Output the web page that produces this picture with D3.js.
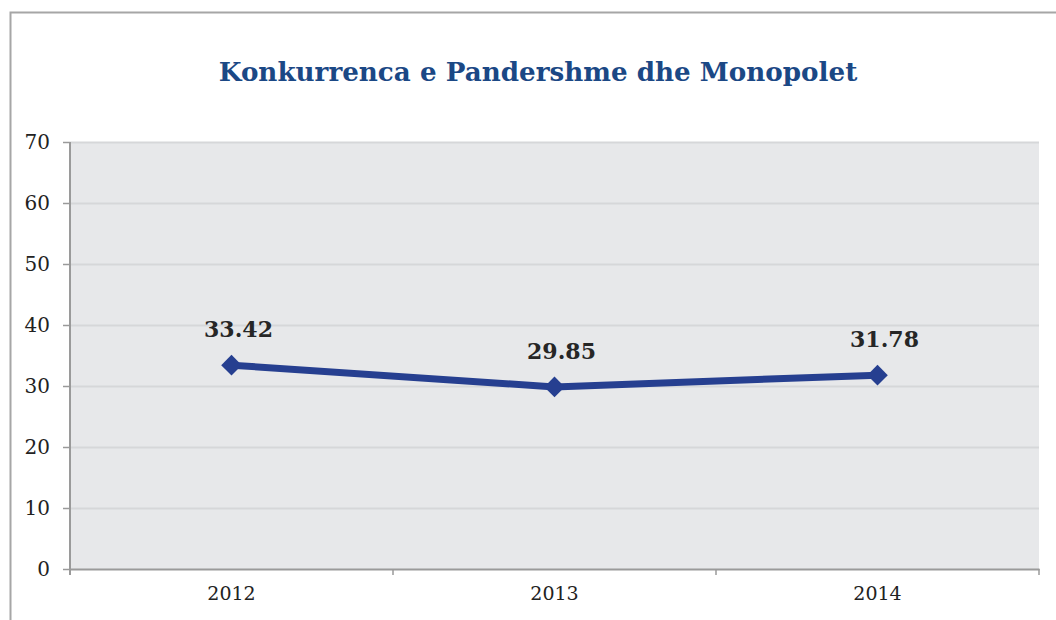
<!DOCTYPE html>
<html>
<head>
<meta charset="utf-8">
<script src="https://cdn.jsdelivr.net/npm/d3@7"></script>
<style>
  body { margin: 0; background: #fff; }
  svg { display: block; }
</style>
</head>
<body>
<svg width="1056" height="620"></svg>
<script>
// data
var years = ["2012", "2013", "2014"];
var values = [33.42, 29.85, 31.78];
var yTicks = [0, 10, 20, 30, 40, 50, 60, 70];
var chartTitle = "Konkurrenca e Pandershme dhe Monopolet";

var svg = d3.select("svg");

let margin = { top: 142, right: 17, bottom: 51, left: 70 };
let plotWidth = 1056 - margin.left - margin.right;
let plotHeight = 620 - margin.top - margin.bottom;

var serif = "'DejaVu Serif', serif";

// outer frame (cut off at right and bottom)
svg.append("path")
  .attr("d", "M10.5,620 V12.5 H1056")
  .attr("fill", "none")
  .attr("stroke", "#a6a6a6")
  .attr("stroke-width", 2);

svg.append("text")
  .attr("x", 538)
  .attr("y", 81)
  .attr("text-anchor", "middle")
  .style("font-family", serif)
  .style("font-weight", "bold")
  .style("font-size", "26.2px")
  .style("fill", "#1b4885")
  .text(chartTitle);

let xScale = d3.scaleBand()
  .domain(years)
  .range([0, plotWidth]);

let yScale = d3.scaleLinear()
  .domain([0, 70])
  .range([plotHeight, 0]);

let plot = svg.append("g").attr("id", "plot")
  .attr("transform", "translate(" + margin.left + "," + margin.top + ")");

plot.append("rect")
  .attr("width", plotWidth)
  .attr("height", plotHeight)
  .attr("fill", "#e7e8ea");

plot.selectAll("line.grid")
  .data(yTicks.filter(function(d) { return d > 0; }))
  .enter().append("line")
  .attr("class", "grid")
  .attr("x1", 0)
  .attr("x2", plotWidth)
  .attr("y1", function(d) { return Math.round(yScale(d)) + 0.5; })
  .attr("y2", function(d) { return Math.round(yScale(d)) + 0.5; })
  .attr("stroke", "#d6d7d9")
  .attr("stroke-width", 2);

// y axis
let yAxis = d3.axisLeft(yScale).tickValues(yTicks).tickSize(7).tickPadding(13);
let yGroup = plot.append("g").attr("id", "y-axis").call(yAxis);
yGroup.select(".domain").attr("stroke", "#9a9a9a").attr("stroke-width", 2)
  .attr("d", "M0," + (plotHeight + 6) + "V0");
yGroup.selectAll(".tick line").attr("stroke", "#9a9a9a").attr("stroke-width", 1.5);
yGroup.selectAll(".tick text")
  .style("font-family", serif)
  .style("font-size", "20px")
  .style("fill", "#222");

// x axis
let xAxis = d3.axisBottom(xScale).tickSize(0).tickPadding(18);
let xGroup = plot.append("g").attr("id", "x-axis")
  .attr("transform", "translate(0," + plotHeight + ")")
  .call(xAxis);
xGroup.select(".domain").attr("stroke", "#9a9a9a").attr("stroke-width", 2);
xGroup.selectAll(".tick text")
  .style("font-family", serif)
  .style("font-size", "19px")
  .style("fill", "#222");

// category separators
let bounds = years.map(function(d) { return xScale(d); }).concat([plotWidth]);
xGroup.selectAll("line.sep")
  .data(bounds)
  .enter().append("line")
  .attr("class", "sep")
  .attr("x1", function(d) { return d; })
  .attr("x2", function(d) { return d; })
  .attr("y1", 0)
  .attr("y2", 6)
  .attr("stroke", "#9a9a9a")
  .attr("stroke-width", 1.5);

let data = years.map(function(y, i) { return { key: y, value: values[i] }; });

let line = d3.line()
  .x(function(d) { return xScale(d.key) + xScale.bandwidth() / 2; })
  .y(function(d) { return yScale(d.value); });

plot.append("path")
  .datum(data)
  .attr("d", line)
  .attr("fill", "none")
  .attr("stroke", "#263f90")
  .attr("stroke-width", 7);

plot.selectAll("path.marker")
  .data(data)
  .enter().append("path")
  .attr("class", "marker")
  .attr("d", d3.symbol().type(d3.symbolDiamond2).size(270))
  .attr("transform", function(d) {
    return "translate(" + (xScale(d.key) + xScale.bandwidth() / 2) + "," + yScale(d.value) + ")";
  })
  .attr("fill", "#263f90");

plot.selectAll("text.label")
  .data(data)
  .enter().append("text")
  .attr("class", "label")
  .attr("x", function(d) { return xScale(d.key) + xScale.bandwidth() / 2 + 7; })
  .attr("y", function(d) { return yScale(d.value) - 28; })
  .attr("text-anchor", "middle")
  .style("font-family", serif)
  .style("font-weight", "bold")
  .style("font-size", "22px")
  .style("fill", "#262626")
  .text(function(d) { return d.value.toFixed(2); });
</script>
</body>
</html>
